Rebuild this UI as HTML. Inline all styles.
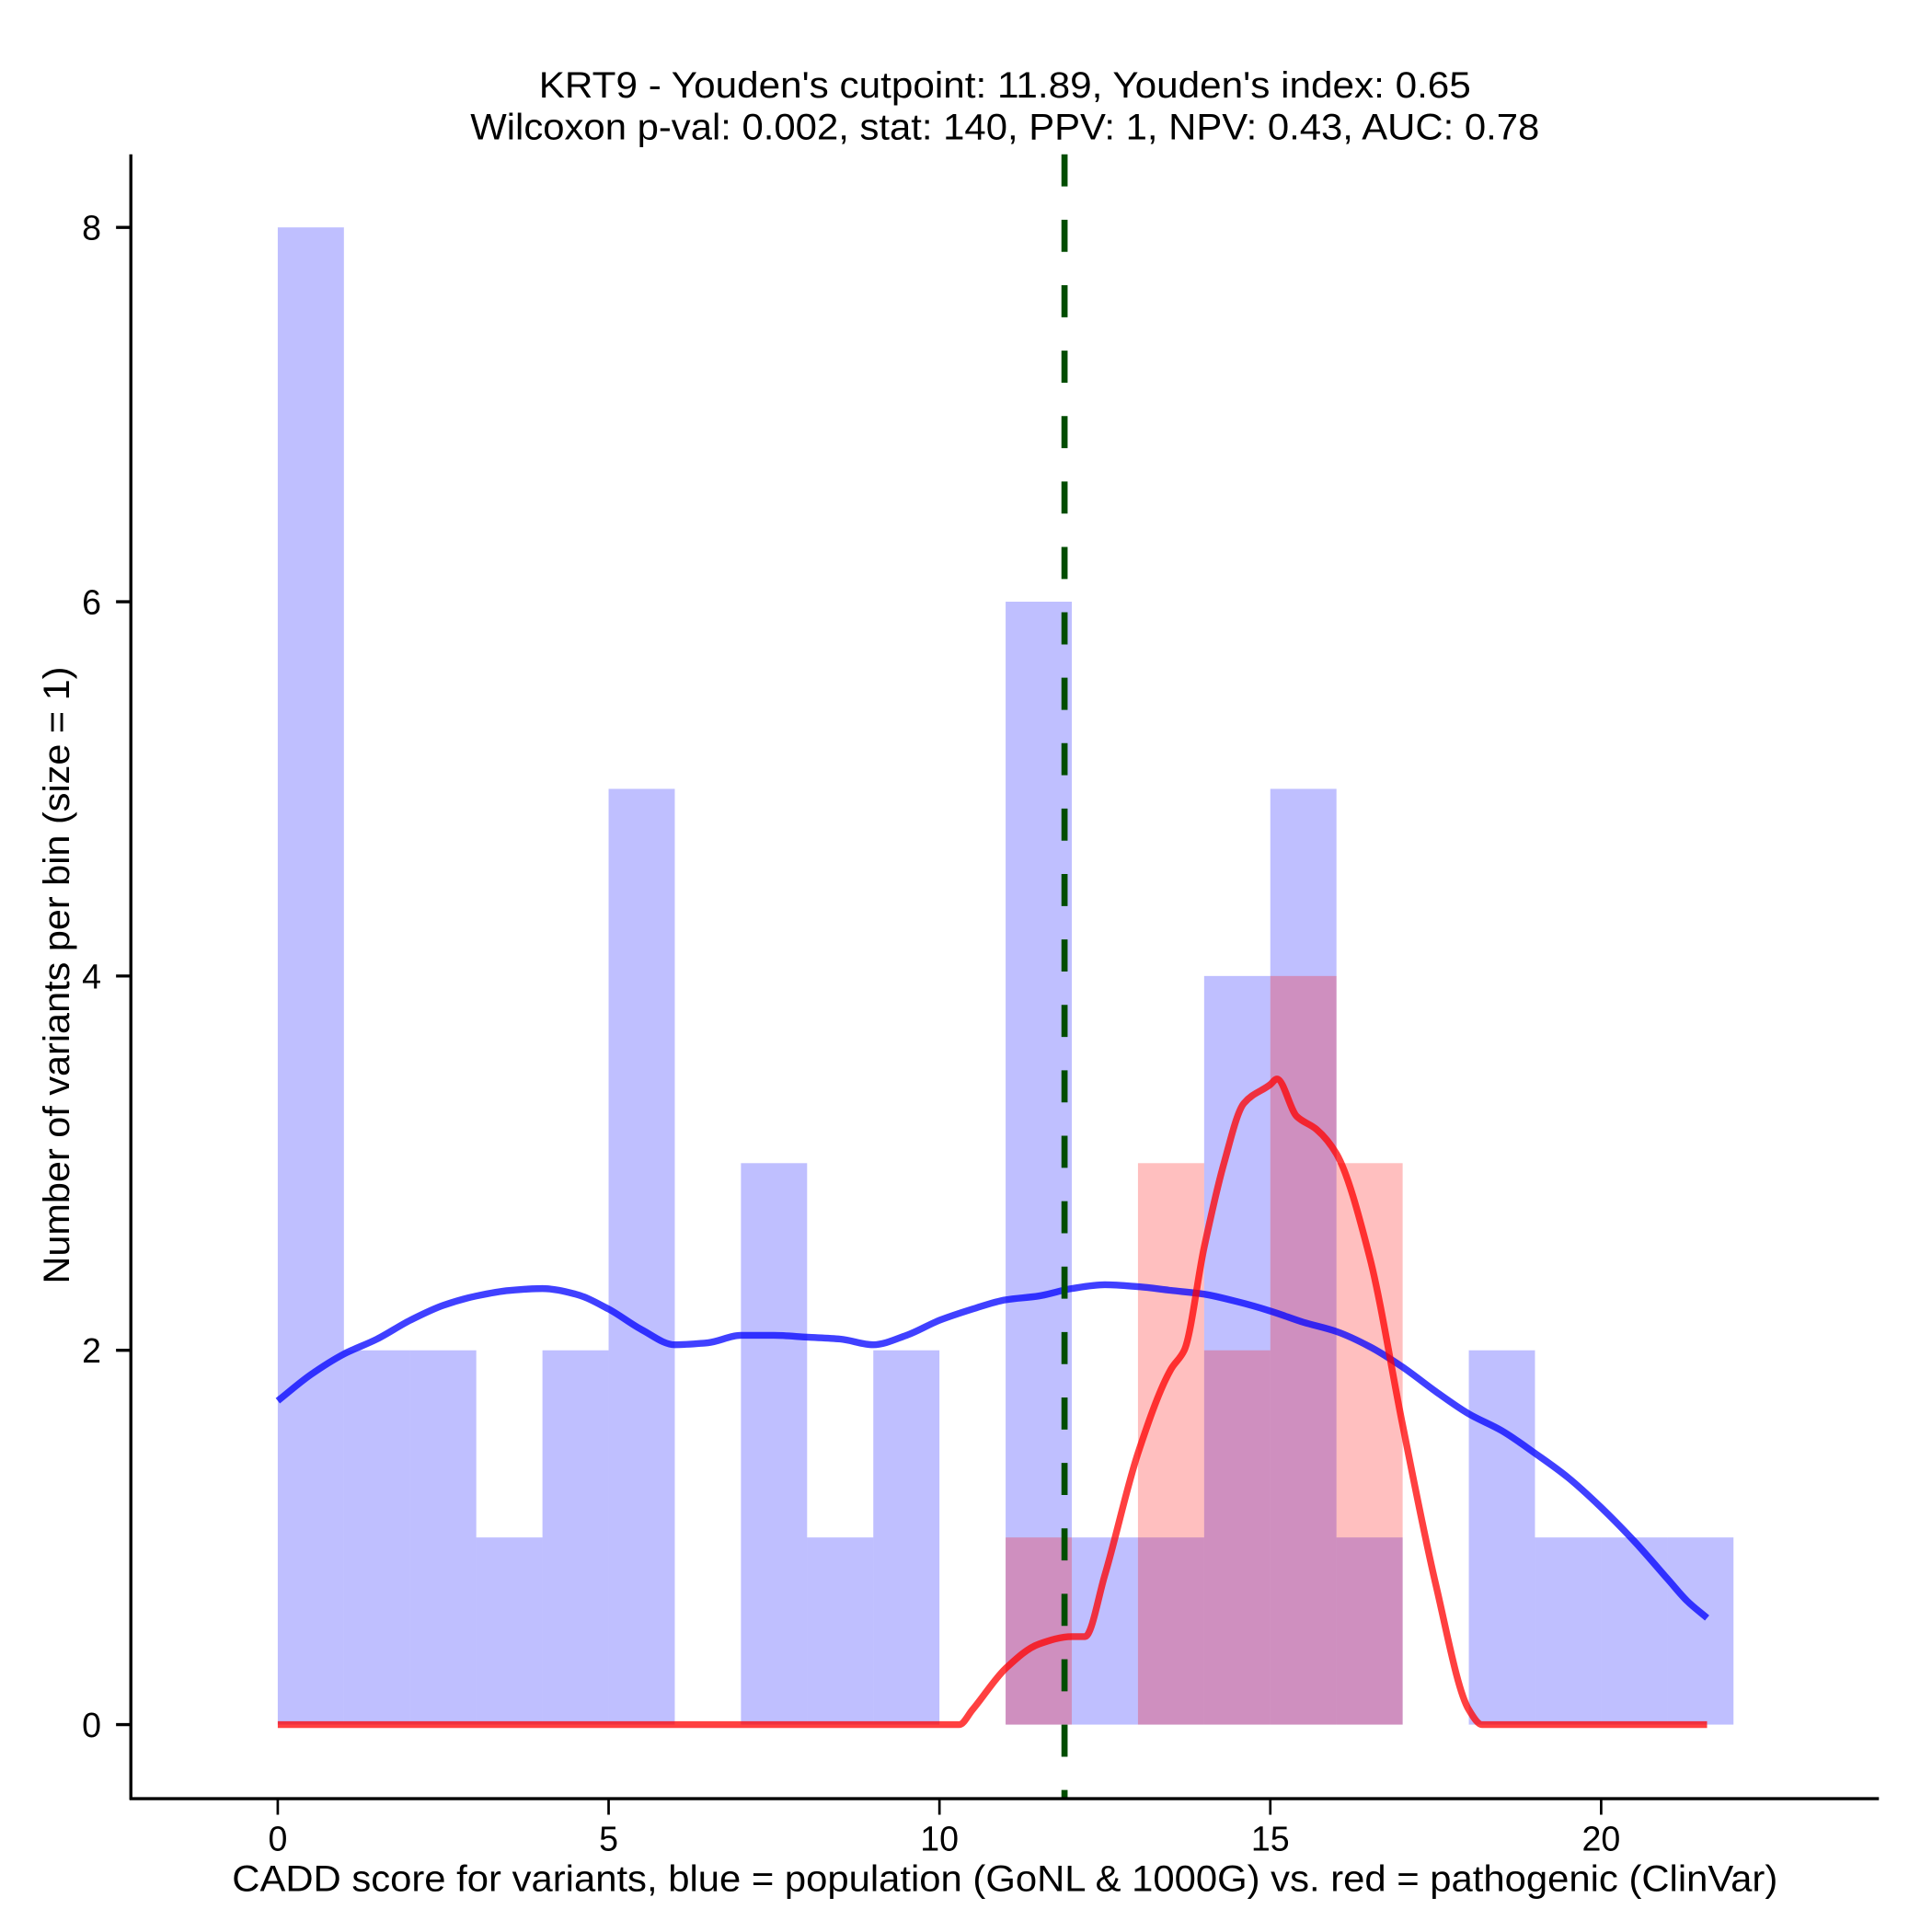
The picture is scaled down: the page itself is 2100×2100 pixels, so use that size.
<!DOCTYPE html>
<html><head><meta charset="utf-8">
<style>
html,body{margin:0;padding:0;background:#fff;}
svg{display:block;}
text{font-family:"Liberation Sans",Arial,sans-serif;fill:#000;}
</style></head>
<body>
<svg id="chart" width="2100" height="2100" viewBox="0 0 1565 1565" xmlns="http://www.w3.org/2000/svg">
<g id="bars-blue"></g>
<g id="bars-red"></g>
<g id="curves"></g>
<g id="axes"></g>
<text x="814" y="79" font-size="30" text-anchor="middle" textLength="755" lengthAdjust="spacingAndGlyphs">KRT9 - Youden's cutpoint: 11.89, Youden's index: 0.65</text>
<text x="814" y="113" font-size="30" text-anchor="middle" textLength="866" lengthAdjust="spacingAndGlyphs">Wilcoxon p-val: 0.002, stat: 140, PPV: 1, NPV: 0.43, AUC: 0.78</text>
<text x="814" y="1532" font-size="30" text-anchor="middle" textLength="1252" lengthAdjust="spacingAndGlyphs">CADD score for variants, blue = population (GoNL &amp; 1000G) vs. red = pathogenic (ClinVar)</text>
<text transform="translate(56,790) rotate(-90)" font-size="30" text-anchor="middle" textLength="500" lengthAdjust="spacingAndGlyphs">Number of variants per bin (size = 1)</text>
</svg>
<script>
const blueCounts = [8,2,2,1,2,5,0,3,1,2,0,6,1,1,4,5,1,0,2,1,1,1];
const redCounts  = [0,0,0,0,0,0,0,0,0,0,0,1,0,3,2,4,3,0,0,0,0,0];
const blueX = [0,0.5,1,1.5,2,2.5,3,3.5,4,4.5,5,5.5,6,6.5,7,7.5,8,8.5,9,9.5,10,10.5,11,11.5,12,12.5,13,13.5,14,14.5,15,15.5,16,16.5,17,17.5,18,18.5,19,19.5,20,20.5,21,21.3,21.6];
const blueY = [1.73,1.87,1.98,2.06,2.16,2.24,2.29,2.32,2.33,2.30,2.22,2.11,2.03,2.04,2.08,2.08,2.07,2.06,2.03,2.08,2.16,2.22,2.27,2.29,2.33,2.35,2.34,2.32,2.30,2.26,2.21,2.15,2.10,2.02,1.91,1.78,1.66,1.57,1.45,1.32,1.16,0.98,0.78,0.66,0.57];
const redX = [0,10.3,10.5,11,11.5,12,12.2,12.5,13,13.5,13.7,14,14.3,14.6,15,15.1,15.4,15.7,16,16.5,17,17.5,18,18.2,21.6];
const redY = [0,0,0.08,0.30,0.43,0.47,0.47,0.80,1.45,1.90,2.00,2.55,3.00,3.32,3.42,3.45,3.25,3.18,3.05,2.50,1.60,0.75,0.08,0,0];
const xTicks = [0,5,10,15,20];
const yTicks = [0,2,4,6,8];
const cutpoint = 11.89;

const NS = "http://www.w3.org/2000/svg";
const X = v => 225 + v * 53.6;
const Y = v => 1397 - v * 151.6;
function mk(tag, attrs, parent){const e=document.createElementNS(NS,tag);for(const k in attrs)e.setAttribute(k,attrs[k]);parent.appendChild(e);return e;}

const gb = document.getElementById('bars-blue');
blueCounts.forEach((c,i)=>{ if(!c) return;
  const r = mk('rect',{x:X(i),y:Y(c),width:X(i+1)-X(i),height:Y(0)-Y(c),fill:'#0000ff','fill-opacity':0.25},gb);
  
  
});
const gr = document.getElementById('bars-red');
redCounts.forEach((c,i)=>{ if(!c) return;
  const r = mk('rect',{x:X(i),y:Y(c),width:X(i+1)-X(i),height:Y(0)-Y(c),fill:'#ff0000','fill-opacity':0.25},gr);
  
  
});
const gc = document.getElementById('curves');
function smooth(xs,ys){
  const p = xs.map((x,i)=>[X(x),Y(ys[i])]);
  const n = p.length;
  const d0 = [];
  for(let i=0;i<n-1;i++) d0.push((p[i+1][1]-p[i][1])/(p[i+1][0]-p[i][0]));
  const m = new Array(n);
  m[0]=d0[0]; m[n-1]=d0[n-2];
  for(let i=1;i<n-1;i++){
    if(d0[i-1]*d0[i]<=0) m[i]=0;
    else { const w1=2*(p[i+1][0]-p[i][0])+(p[i][0]-p[i-1][0]), w2=(p[i+1][0]-p[i][0])+2*(p[i][0]-p[i-1][0]);
      m[i]=(w1+w2)/(w1/d0[i-1]+w2/d0[i]); }
  }
  for(let i=0;i<n-1;i++){ if(d0[i]===0){m[i]=0;m[i+1]=0;} }
  let d = 'M'+p[0][0].toFixed(1)+','+p[0][1].toFixed(1);
  for(let i=0;i<n-1;i++){
    const dx=(p[i+1][0]-p[i][0])/3;
    d+=' C'+(p[i][0]+dx).toFixed(1)+','+(p[i][1]+m[i]*dx).toFixed(1)+' '+(p[i+1][0]-dx).toFixed(1)+','+(p[i+1][1]-m[i+1]*dx).toFixed(1)+' '+p[i+1][0].toFixed(1)+','+p[i+1][1].toFixed(1);
  }
  return d;
}
const pb = mk('path',{d:smooth(blueX,blueY),fill:'none',stroke:'#0000ff','stroke-opacity':0.75,'stroke-width':5.5,'stroke-linejoin':'round'},gc);


const pr = mk('path',{d:smooth(redX,redY),fill:'none',stroke:'#ff0000','stroke-opacity':0.75,'stroke-width':5.5,'stroke-linejoin':'round'},gc);


const cl = mk('line',{x1:X(cutpoint),x2:X(cutpoint),y1:125,y2:1457,stroke:'#004d00','stroke-width':5,'stroke-dasharray':'26 27'},gc);



const ga = document.getElementById('axes');
const ya = mk('line',{x1:106,x2:106,y1:125,y2:1458,stroke:'#000','stroke-width':2.5},ga);


const xa = mk('line',{x1:105,x2:1522,y1:1457,y2:1457,stroke:'#000','stroke-width':2.5},ga);


xTicks.forEach(t=>{
  const l = mk('line',{x1:X(t),x2:X(t),y1:1457,y2:1470,stroke:'#000','stroke-width':2},ga);
  
  
  const tx = mk('text',{x:X(t),y:1499,'font-size':28,'text-anchor':'middle'},ga);
  tx.textContent = t;
  
  
});
yTicks.forEach(t=>{
  const l = mk('line',{x1:94,x2:106,y1:Y(t),y2:Y(t),stroke:'#000','stroke-width':2.5},ga);
  
  
  const tx = mk('text',{x:82,y:Y(t)+10,'font-size':28,'text-anchor':'end'},ga);
  tx.textContent = t;
  
  
});
</script>
</body></html>
